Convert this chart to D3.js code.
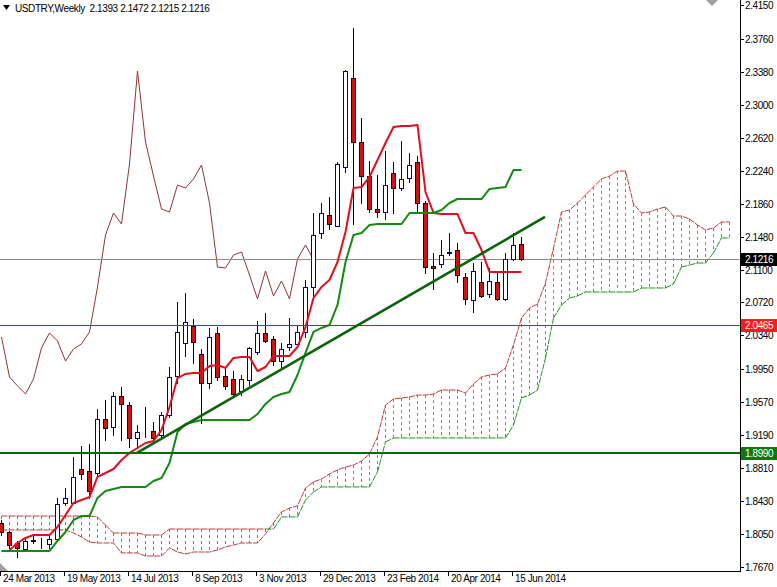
<!DOCTYPE html>
<html><head><meta charset="utf-8">
<script src="https://cdn.jsdelivr.net/npm/d3@7/dist/d3.min.js"></script>
<style>body{margin:0;background:#fff}svg{display:block}text{font-family:"Liberation Sans",Arial,sans-serif;font-size:10px;letter-spacing:-0.4px;white-space:pre}</style>
</head><body><svg id="c" width="777" height="587"></svg>
<script>
// ---------------- data ----------------
const title = "USDTRY,Weekly";
const xTickWeeks = [0, 8, 16, 24, 32, 40, 48, 56, 64];
const xTickLabels = ["24 Mar 2013","19 May 2013","14 Jul 2013","8 Sep 2013","3 Nov 2013","29 Dec 2013","23 Feb 2014","20 Apr 2014","15 Jun 2014"];
const yTickValues = [2.4150,2.3760,2.3380,2.3000,2.2620,2.2240,2.1860,2.1480,2.1100,2.0720,2.0340,1.9950,1.9570,1.9190,1.8810,1.8430,1.8050,1.7670];

const open  = [1.8178,1.8074,1.7947,1.7878,1.7982,1.7950,1.7935,1.7993,1.8408,1.8408,1.8800,1.8777,1.8754,1.9377,1.9284,1.9642,1.9538,1.9158,1.9240,1.9238,1.9192,1.9423,1.9873,2.0253,2.0449,2.0126,1.9792,2.0369,1.9873,1.9838,1.9700,1.9827,2.0150,2.0369,2.0299,2.0045,2.0207,2.0242,2.0380,2.0899,2.1522,2.1729,2.1602,2.2282,2.3308,2.2571,2.2178,2.1798,2.1763,2.2213,2.2040,2.2155,2.2340,2.1867,2.1141,2.1164,2.1290,2.1325,2.1014,2.0749,2.0956,2.0818,2.0956,2.0761,2.1221,2.1393];
const high  = [1.8212,1.8085,1.7970,1.8005,1.8028,1.8005,1.8039,1.8466,1.8581,1.8939,1.9065,1.9089,1.9492,1.9596,1.9689,1.9746,1.9573,1.9308,1.9515,1.9342,1.9458,1.9976,2.0726,2.0830,2.0530,2.0184,2.0426,2.0438,1.9976,1.9930,1.9884,2.0207,2.0507,2.0599,2.0334,2.0253,2.0541,2.0449,2.0979,2.1752,2.1867,2.1936,2.2340,2.3401,2.3885,2.2847,2.2352,2.2190,2.2467,2.2340,2.2582,2.2444,2.2409,2.1890,2.1290,2.1441,2.1522,2.1406,2.1060,2.1175,2.1187,2.1118,2.1060,2.1290,2.1522,2.1472];
const low   = [1.8039,1.7889,1.7786,1.7878,1.7947,1.7889,1.7889,1.7982,1.8385,1.8408,1.8685,1.8466,1.8708,1.9135,1.9192,1.9135,1.9054,1.9042,1.9169,1.9112,1.9169,1.9400,1.9792,2.0103,2.0022,1.9331,1.9734,1.9827,1.9723,1.9631,1.9654,1.9769,2.0126,2.0265,1.9999,1.9965,2.0173,2.0230,2.0322,2.0772,2.1464,2.1568,2.1602,2.2225,2.1625,2.1867,2.1763,2.1706,2.1683,2.1752,2.2017,2.2110,2.1752,2.1060,2.0876,2.1129,2.1267,2.0956,2.0703,2.0611,2.0784,2.0784,2.0749,2.0749,2.1210,2.1215];
const close = [1.8074,1.7924,1.7889,1.7970,1.7965,1.7945,1.7993,1.8397,1.8466,1.8708,1.8742,1.8547,1.9377,1.9273,1.9642,1.9550,1.9158,1.9227,1.9236,1.9158,1.9423,1.9861,2.0380,2.0495,2.0265,1.9792,2.0322,1.9861,1.9757,1.9666,1.9838,2.0196,2.0369,2.0276,2.0045,2.0184,2.0242,2.0380,2.0899,2.1498,2.1752,2.1625,2.2317,2.3389,2.2571,2.2178,2.1798,2.1763,2.2075,2.2040,2.2144,2.2305,2.1867,2.1129,2.1118,2.1267,2.1302,2.1037,2.0761,2.1083,2.0795,2.0968,2.0761,2.1221,2.1383,2.1216];

const tenkan = [null,1.7866,1.7947,1.8005,1.8039,1.8039,1.8039,1.8131,1.8270,1.8408,1.8443,1.8477,1.8708,1.8754,1.8800,1.8904,1.8985,1.9042,1.9100,1.9123,1.9250,1.9515,1.9849,1.9896,1.9907,1.9907,1.9988,1.9999,1.9965,2.0080,2.0091,2.0091,1.9930,1.9976,2.0103,2.0103,2.0103,2.0207,2.0437,2.0772,2.0899,2.0979,2.1187,2.1533,2.2040,2.2051,2.2167,2.2363,2.2559,2.2743,2.2755,2.2755,2.2767,2.1994,2.1752,2.1740,2.1740,2.1740,2.1521,2.1521,2.1325,2.1072,2.1072,2.1072,2.1072,2.1072];
const kijun  = [1.7855,1.7855,1.7855,1.7855,1.7855,1.7855,1.7855,1.7970,1.8074,1.8212,1.8258,1.8258,1.8466,1.8547,1.8570,1.8593,1.8593,1.8593,1.8593,1.8662,1.8696,1.8869,1.9227,1.9319,1.9342,1.9365,1.9365,1.9365,1.9365,1.9365,1.9365,1.9365,1.9434,1.9550,1.9630,1.9665,1.9688,1.9884,2.0138,2.0380,2.0426,2.0460,2.0691,2.1187,2.1498,2.1521,2.1613,2.1625,2.1625,2.1625,2.1625,2.1752,2.1752,2.1752,2.1752,2.1786,2.1867,2.1913,2.1913,2.1913,2.1913,2.2029,2.2040,2.2051,2.2248,2.2248];
const spanA  = [1.8097,1.8097,1.8097,1.8097,1.8097,1.8097,1.8097,1.8097,1.8097,1.8062,1.8016,1.7958,1.7947,1.7947,1.7947,1.7832,1.7832,1.7832,1.7797,1.7797,1.7797,1.7889,1.7843,1.7820,1.7843,1.7843,1.7843,1.7866,1.7901,1.7924,1.7947,1.7947,1.7947,1.8051,1.8178,1.8304,1.8350,1.8374,1.8581,1.8650,1.8685,1.8743,1.8789,1.8823,1.8846,1.8892,1.8973,1.9169,1.9538,1.9607,1.9619,1.9630,1.9653,1.9653,1.9665,1.9711,1.9711,1.9711,1.9676,1.9780,1.9861,1.9884,1.9896,1.9965,2.0230,2.0541,2.0656,2.0703,2.0945,2.1348,2.1763,2.1786,2.1867,2.1959,2.2052,2.2144,2.2178,2.2236,2.2236,2.1856,2.1752,2.1763,2.1798,2.1821,2.1717,2.1717,2.1683,2.1614,2.1556,2.1579,2.1648,2.1648];
const spanB  = [1.8258,1.8258,1.8258,1.8258,1.8258,1.8258,1.8258,1.8258,1.8258,1.8258,1.8258,1.8258,1.8247,1.8154,1.8062,1.8062,1.8062,1.8062,1.8039,1.8039,1.8039,1.8108,1.8108,1.8108,1.8108,1.8108,1.8108,1.8108,1.8108,1.8108,1.8108,1.8108,1.8108,1.8108,1.8108,1.8247,1.8247,1.8247,1.8443,1.8535,1.8593,1.8593,1.8593,1.8593,1.8593,1.8593,1.8593,1.8766,1.9112,1.9158,1.9158,1.9158,1.9158,1.9158,1.9158,1.9158,1.9158,1.9158,1.9158,1.9158,1.9158,1.9158,1.9158,1.9158,1.9307,1.9619,1.9653,1.9711,2.0080,2.0541,2.0691,2.0772,2.0795,2.0841,2.0841,2.0841,2.0841,2.0841,2.0841,2.0841,2.0887,2.0887,2.0887,2.0887,2.0933,2.1129,2.1152,2.1175,2.1175,2.1291,2.1464,2.1464];
const chikouShift = 26;

const trendWeeks  = [17, 68];
const trendPrices = [1.8985, 2.1706];
const redLevel = 2.0465;
const greenLevel = 1.8990;
const bidPrice = 2.1216;

// ---------------- drawing ----------------
const svg = d3.select("#c");
const plotR = 740, plotB = 571;
const x = d3.scaleLinear().domain([0, 92.375]).range([1, 740]);
const y = d3.scaleLinear().domain([1.7670, 2.4150]).range([567, 5]);
const px = w => Math.round(x(w));
const GREEN_H = "#40b040", RED_H = "#e05050";

svg.append("defs").append("clipPath").attr("id","clip")
  .append("rect").attr("x",0).attr("y",0).attr("width",plotR).attr("height",plotB);
const g = svg.append("g").attr("clip-path","url(#clip)");

// cloud hatching
const hatch = g.append("g").attr("shape-rendering","crispEdges");
spanA.forEach((a, w) => {
  const b = spanB[w];
  hatch.append("line")
    .attr("x1", px(w)+0.5).attr("x2", px(w)+0.5)
    .attr("y1", Math.round(y(Math.max(a,b)))).attr("y2", Math.round(y(Math.min(a,b))))
    .attr("stroke", a >= b ? GREEN_H : RED_H)
    .attr("stroke-width", 1).attr("stroke-dasharray", "3,3");
});
// span lines
const lineGen = d3.line().defined(d => d[1] != null).x(d => px(d[0])+0.5).y(d => y(d[1]));
g.append("path").datum(spanA.map((v,i)=>[i,v])).attr("d", lineGen)
  .attr("fill","none").attr("stroke","#c03c3c").attr("stroke-width",1).attr("stroke-dasharray","6,1");
for (let w = 0; w < spanB.length-1; w++) {
  const bear = spanB[w] > spanA[w] && spanB[w+1] > spanA[w+1];
  g.append("line").attr("x1",px(w)+0.5).attr("x2",px(w+1)+0.5)
    .attr("y1",y(spanB[w])).attr("y2",y(spanB[w+1]))
    .attr("stroke", bear ? "#c03c3c" : "#1e961e").attr("stroke-width",1).attr("stroke-dasharray","6,1");
}

// chikou (close shifted back)
const chikou = close.slice(chikouShift).map((v,i)=>[i,v]);
g.append("path").datum(chikou).attr("d", lineGen)
  .attr("fill","none").attr("stroke","#8b3535").attr("stroke-width",1);

// bid line
g.append("line").attr("x1",0).attr("x2",plotR)
  .attr("y1",Math.round(y(bidPrice))+0.5).attr("y2",Math.round(y(bidPrice))+0.5)
  .attr("stroke","#8c8c8c").attr("stroke-width",1);

// candles
const cg = g.append("g");
open.forEach((o, w) => {
  const c = close[w], bull = c >= o;
  const cx = px(w);
  cg.append("line").attr("x1",cx+0.5).attr("x2",cx+0.5)
    .attr("y1",Math.round(y(high[w]))).attr("y2",Math.round(y(low[w]))+1)
    .attr("stroke", bull ? "#000090" : "#000").attr("stroke-width",1);
  const top = Math.round(y(Math.max(o,c))), bot = Math.round(y(Math.min(o,c)));
  cg.append("rect").attr("x",cx-1.5).attr("width",4)
    .attr("y",top+0.5).attr("height",Math.max(0,bot-top))
    .attr("fill", bull ? "#fff" : "#cc1414")
    .attr("stroke", bull ? "#000090" : "#2a0000").attr("stroke-width",1);
});

// tenkan / kijun
g.append("path").datum(tenkan.map((v,i)=>[i,v])).attr("d", lineGen)
  .attr("fill","none").attr("stroke","#e0101e").attr("stroke-width",2).attr("stroke-linejoin","round");
g.append("path").datum(kijun.map((v,i)=>[i,v])).attr("d", lineGen)
  .attr("fill","none").attr("stroke","#138a13").attr("stroke-width",2).attr("stroke-linejoin","round");

// horizontal levels
g.append("line").attr("x1",0).attr("x2",plotR)
  .attr("y1",Math.round(y(redLevel))+0.5).attr("y2",Math.round(y(redLevel))+0.5)
  .attr("stroke","#ff0000").attr("stroke-width",1);
g.append("line").attr("x1",0).attr("x2",plotR)
  .attr("y1",Math.round(y(greenLevel))).attr("y2",Math.round(y(greenLevel)))
  .attr("stroke","#007000").attr("stroke-width",2);

// trendline
g.append("line")
  .attr("x1", x(trendWeeks[0])).attr("y1", y(trendPrices[0]))
  .attr("x2", x(trendWeeks[1])).attr("y2", y(trendPrices[1]))
  .attr("stroke","#0b630b").attr("stroke-width",2.6);

// frame
svg.append("line").attr("x1",plotR+0.5).attr("x2",plotR+0.5).attr("y1",0).attr("y2",plotB+1).attr("stroke","#000");
svg.append("line").attr("x1",0).attr("x2",plotR+1).attr("y1",plotB+0.5).attr("y2",plotB+0.5).attr("stroke","#000");

// y ticks
yTickValues.forEach(v => {
  const yy = Math.round(y(v));
  svg.append("line").attr("x1",plotR).attr("x2",plotR+4).attr("y1",yy+0.5).attr("y2",yy+0.5).attr("stroke","#000");
  svg.append("text").attr("x",plotR+5).attr("y",yy).attr("dy","0.35em").attr("fill","#000").text(v.toFixed(4));
});
// price tags
function tag(v, bg, fg) {
  const yy = Math.round(y(v));
  svg.append("rect").attr("x",plotR+1).attr("y",yy-6).attr("width",777-plotR-1).attr("height",13).attr("fill",bg);
  svg.append("text").attr("x",plotR+5).attr("y",yy).attr("dy","0.35em").attr("fill",fg).text(v.toFixed(4));
}
tag(bidPrice, "#000", "#fff");
tag(redLevel, "#ff1a1a", "#fff");
tag(greenLevel, "#0a7a0a", "#fff");

// x ticks
xTickWeeks.forEach((w,i) => {
  const xx = px(w) - 1;
  svg.append("line").attr("x1",xx+0.5).attr("x2",xx+0.5).attr("y1",plotB).attr("y2",plotB+5).attr("stroke","#000");
  svg.append("text").attr("x",xx+3).attr("y",582).attr("fill","#000").text(xTickLabels[i]);
});

// header
svg.append("path").attr("d","M3,5 L10,5 L6.5,10 Z").attr("fill","#000");
svg.append("text").attr("x",15).attr("y",12).attr("fill","#000")
  .text(title + "  " + [open[65],high[65],low[65],close[65]].map(v=>v.toFixed(4)).join(" "));

// chart-shift markers
svg.append("path").attr("d","M706,0 L718,0 L712,6 Z").attr("fill","#a0a0a0");
svg.append("path").attr("d","M0,563 L8,571 L0,571 Z").attr("fill","#a0a0a0");
</script></body></html>
